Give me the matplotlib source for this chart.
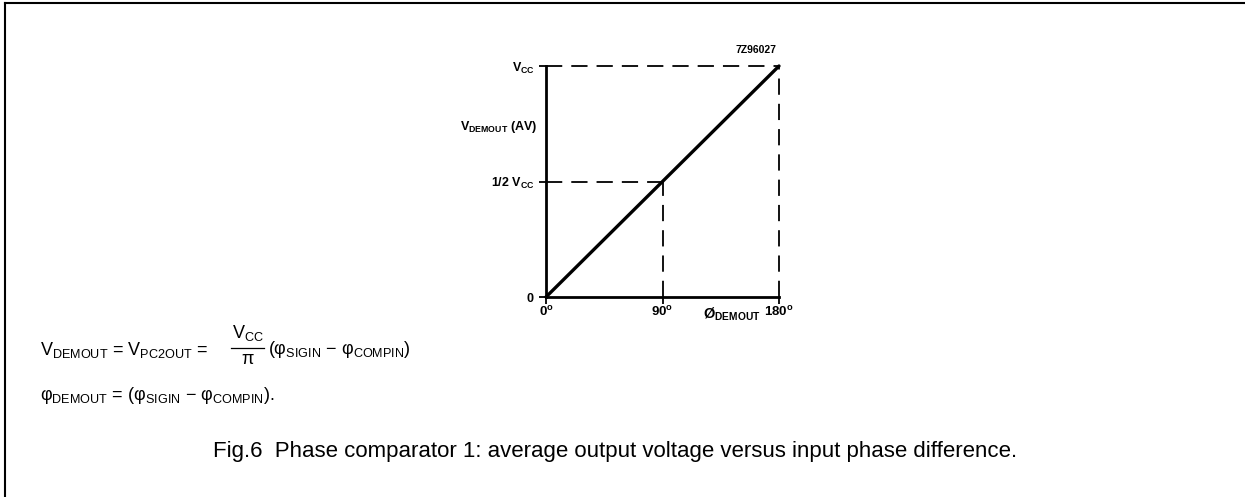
import matplotlib
matplotlib.use("Agg")
import matplotlib.pyplot as plt
from matplotlib.lines import Line2D

plt.rcParams['font.family'] = ['Liberation Sans', 'DejaVu Sans']
plt.rcParams['mathtext.fontset'] = 'custom'
plt.rcParams['mathtext.rm'] = 'Liberation Sans'
plt.rcParams['mathtext.bf'] = 'Liberation Sans:bold'
plt.rcParams['mathtext.it'] = 'Liberation Sans:italic'

# data: phase difference (deg) vs average output (fraction of Vcc)
phase = [0, 90, 180]
vout = [0.0, 0.5, 1.0]
x_ticks = [0, 90, 180]
x_labels = [r'$\mathbf{0^{o}}$', r'$\mathbf{90^{o}}$', r'$\mathbf{180^{o}}$']
y_ticks = [0, 0.5, 1.0]
y_labels = [r'$\mathbf{0}$', r'$\mathbf{1/2\ V_{CC}}$', r'$\mathbf{V_{CC}}$']

fig = plt.figure(figsize=(12.45, 4.97), dpi=100)
ax = fig.add_axes([546 / 1245, 1 - 297 / 497, 233 / 1245, 231 / 497])
ax.set_xlim(phase[0], phase[-1])
ax.set_ylim(vout[0], vout[-1])

# transfer line
ax.plot(phase, vout, color='black', lw=2.4, solid_capstyle='round', clip_on=False)

# dashed guides
dash = dict(color='black', lw=1.3, dashes=(9, 5), clip_on=False)
ax.plot([phase[0], phase[-1]], [vout[-1], vout[-1]], **dash)
ax.plot([phase[-1], phase[-1]], [vout[0], vout[-1]], **dash)
ax.plot([phase[0], phase[1]], [vout[1], vout[1]], **dash)
ax.plot([phase[1], phase[1]], [vout[0], vout[1]], **dash)

for s in ['top', 'right']:
    ax.spines[s].set_visible(False)
for s in ['left', 'bottom']:
    ax.spines[s].set_linewidth(2)

ax.set_xticks(x_ticks)
ax.set_xticklabels(x_labels, fontsize=9.5)
ax.set_yticks(y_ticks)
ax.set_yticklabels(y_labels, fontsize=9)
ax.tick_params(axis='both', direction='out', length=5, width=1.3, pad=3)
ax.tick_params(axis='x', pad=1)
ax.patch.set_visible(False)

ax.text(-0.035, 0.736, r'$\mathbf{V_{DEMOUT}\ (AV)}$', transform=ax.transAxes,
        ha='right', va='center', fontsize=9)
ax.text(0.675, -0.075, r'$\mathbf{\O_{DEMOUT}}$', transform=ax.transAxes,
        ha='left', va='center', fontsize=10.5)
ax.text(0.90, 1.07, '7Z96027', transform=ax.transAxes, ha='center', va='center',
        fontsize=7.5, fontweight='bold')

# formulas
fs = 13
fig.text(40 / 1245, 1 - 350 / 497, r'V$_{\mathrm{DEMOUT}}$ = V$_{\mathrm{PC2OUT}}$ =',
         ha='left', va='center', fontsize=fs)
fig.text(248 / 1245, 1 - 333 / 497, r'V$_{\mathrm{CC}}$', ha='center', va='center', fontsize=fs)
fig.add_artist(Line2D([231 / 1245, 264 / 1245], [1 - 348 / 497, 1 - 348 / 497],
                      color='black', lw=0.9))
fig.text(248 / 1245, 1 - 359 / 497, 'π', ha='center', va='center', fontsize=fs)
fig.text(268 / 1245, 1 - 350 / 497, r'(φ$_{\mathrm{SIGIN}}$ − φ$_{\mathrm{COMPIN}}$)',
         ha='left', va='center', fontsize=fs)
fig.text(40 / 1245, 1 - 395 / 497, r'φ$_{\mathrm{DEMOUT}}$ = (φ$_{\mathrm{SIGIN}}$ − φ$_{\mathrm{COMPIN}}$).',
         ha='left', va='center', fontsize=fs)

fig.text(0.494, 1 - 452 / 497,
         'Fig.6  Phase comparator 1: average output voltage versus input phase difference.',
         ha='center', va='center', fontsize=16)

# frame (left and top only)
fig.add_artist(Line2D([5 / 1245, 5 / 1245], [0, 1 - 3 / 497], color='black', lw=1.5))
fig.add_artist(Line2D([5 / 1245, 1], [1 - 3 / 497, 1 - 3 / 497], color='black', lw=1.5))

fig.savefig('out.png', dpi=100)
